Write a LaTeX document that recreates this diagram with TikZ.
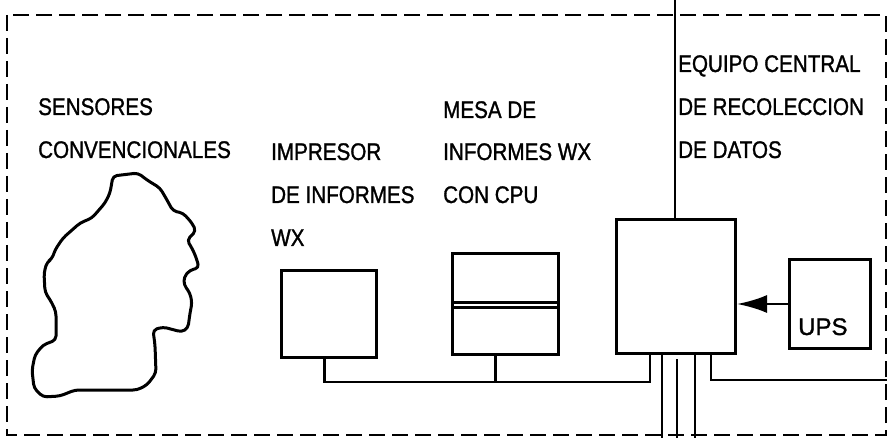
\documentclass[tikz,border=0pt]{standalone}
\usepackage{fontspec}
\setmainfont{Liberation Sans}[FakeStretch=0.86, FakeBold=1.2]
\newfontfamily\upsfont{Liberation Sans}[FakeBold=1.2]
\usetikzlibrary{arrows.meta,calc}
\tikzset{
  box/.style={draw, line width=3pt, inner sep=0pt, anchor=north west},
  lbl/.style={anchor=base west, inner sep=0pt, font=\fontsize{24}{28}\selectfont},
  wire/.style={line width=2.6pt},
  border/.style={line width=2.4pt, dash pattern=on 16pt off 7pt},
  blob/.style={line width=3pt, rounded corners=4pt, line join=round}
}
\begin{document}
\begin{tikzpicture}[x=1pt,y=-1pt]
\useasboundingbox[fill=white] (0,0) rectangle (888,438);

% dashed enclosure
\draw[border] (7,15) rectangle (886,435);

% sensors blob
\draw[blob] (113,176) -- (138,173) -- (147,180) -- (160,188) -- (167,200) -- (173,211)
  -- (183,213) -- (192,223) -- (196,231) -- (187,240) -- (193,250) -- (197,260)
  -- (199,268) -- (190,270) -- (184,277) -- (184,285) -- (190,293) -- (192,303)
  -- (190,313) -- (188,328) -- (182,332) -- (163,327) -- (153,330) -- (155,345)
  -- (156,373) -- (147,385) -- (137,390) -- (75,390) -- (60,396) -- (43,397)
  -- (34,388) -- (32,370) -- (35,355) -- (43,345) -- (56,340) -- (56,312)
  -- (52,303) -- (45,292) -- (44,273) -- (47,262) -- (52,259) -- (55,250)
  -- (63,238) -- (80,223) -- (92,218) -- (105,203) -- (110,193) -- cycle;

% labels
\node[lbl] (s1) at (38,115) {SENSORES};
\node[lbl] (s2) at (38,158) {CONVENCIONALES};
\node[lbl] (i1) at (271,160) {IMPRESOR};
\node[lbl] (i2) at (271,203) {DE INFORMES};
\node[lbl] (i3) at (271,246) {WX};
\node[lbl] (m1) at (443,118) {MESA DE};
\node[lbl] (m2) at (443,160) {INFORMES WX};
\node[lbl] (m3) at (443,203) {CON CPU};
\node[lbl] (e1) at (678,72) {EQUIPO CENTRAL};
\node[lbl] (e2) at (678,115) {DE RECOLECCION};
\node[lbl] (e3) at (678,158) {DE DATOS};

% boxes
\node[box, minimum width=95pt, minimum height=87pt] (imp) at (280,269) {};
\node[box, minimum width=106pt, minimum height=101pt] (mesa) at (451,252) {};
\node[box, minimum width=119pt, minimum height=134pt] (cen) at (615,218) {};
\node[box, minimum width=81pt, minimum height=89pt] (ups) at (788,258) {};
\node[anchor=base west, inner sep=0pt, font=\upsfont\fontsize{24}{28}\selectfont] (upst) at (798,335) {UPS};

% mesa divider
\draw[line width=3pt] ($(mesa.north west)+(0,50)$) -- ($(mesa.north east)+(0,50)$);
\draw[line width=3pt] ($(mesa.north west)+(0,55)$) -- ($(mesa.north east)+(0,55)$);

% line from top to central box
\coordinate (topc) at (675,0);
\draw[wire] (cen.north -| topc) -- (topc);

% UPS arrow
\draw[wire, -{Latex[length=30pt,width=18pt]}] (ups.west) -- (cen.east |- ups.west);

% bus
\coordinate (busR) at (650,382);
\coordinate (impout) at ($(imp.south)+(-4.5,0)$);
\coordinate (mesaout) at ($(mesa.south)+(-10,0)$);
\draw[wire] (impout) |- (busR) -- (cen.south -| busR);
\draw[wire] (mesaout) -- (mesaout |- busR);

% lines leaving downward
\coordinate (d1) at (662,438);
\coordinate (d2) at (677,438);
\coordinate (d3) at (695,438);
\draw[wire] (cen.south -| d1) -- (d1);
\draw[wire] ($(cen.south -| d2)+(0,4)$) -- (d2);
\draw[wire] (cen.south -| d3) -- (d3);

% line to the right
\coordinate (rt) at (887,380);
\coordinate (cenout) at ($(cen.south east)+(-26,0)$);
\draw[wire] (cenout) |- (rt);
\end{tikzpicture}
\end{document}
